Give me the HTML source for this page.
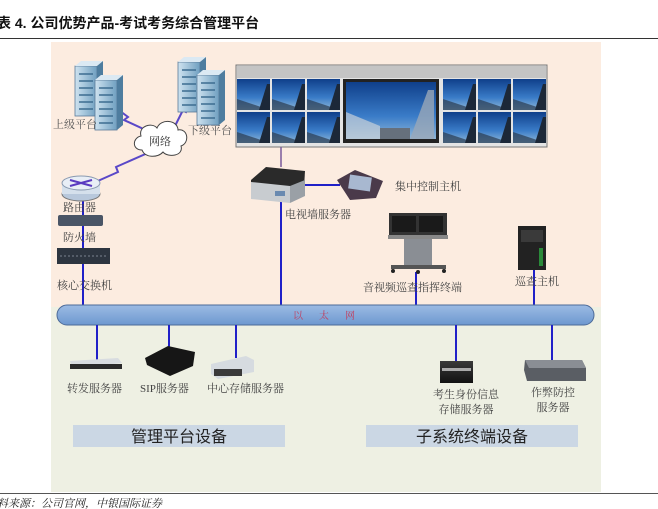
<!DOCTYPE html>
<html><head><meta charset="utf-8"><style>
html,body{margin:0;padding:0;background:#fff;}
svg{display:block;font-family:"Liberation Serif","Noto Serif CJK SC","Noto Sans CJK SC",serif;}
</style></head><body>
<svg width="658" height="509" viewBox="0 0 658 509" xmlns="http://www.w3.org/2000/svg">
<defs>
<linearGradient id="sky" x1="0" y1="0" x2="0" y2="1"><stop offset="0" stop-color="#0f3f8a"/><stop offset="0.6" stop-color="#3a7cc8"/><stop offset="1" stop-color="#8fb7d8"/></linearGradient>
<linearGradient id="srv" x1="0" y1="0" x2="1" y2="0"><stop offset="0" stop-color="#cfe3f0"/><stop offset="1" stop-color="#6f9fc0"/></linearGradient>
<linearGradient id="bar" x1="0" y1="0" x2="0" y2="1"><stop offset="0" stop-color="#9cbbe4"/><stop offset="1" stop-color="#6d98d0"/></linearGradient>
<linearGradient id="box" x1="0" y1="0" x2="0" y2="1"><stop offset="0" stop-color="#3a3a3a"/><stop offset="1" stop-color="#111"/></linearGradient>
<g id="tile"><rect width="33" height="31" fill="url(#sky)"/><path d="M0 20 L33 31 L0 31Z" fill="#2a3a50" opacity="0.7"/><path d="M22 31 L30 5 L33 5 L33 31Z" fill="#1c2838"/></g>
<g id="rack"><rect x="0" y="0" width="22" height="50" fill="url(#srv)" stroke="#5a7a98" stroke-width="0.8"/><path d="M0 0 L6 -5 L28 -5 L22 0Z" fill="#dbe9f3"/><path d="M22 0 L28 -5 L28 45 L22 50Z" fill="#4e7d9f"/>
<g stroke="#3c6c90" stroke-width="1.5"><line x1="4" y1="8" x2="18" y2="8"/><line x1="4" y1="15" x2="18" y2="15"/><line x1="4" y1="22" x2="18" y2="22"/><line x1="4" y1="29" x2="18" y2="29"/><line x1="4" y1="36" x2="18" y2="36"/><line x1="4" y1="43" x2="18" y2="43"/></g></g>
</defs>
<rect width="658" height="509" fill="#fff"/>
<text x="-3" y="28" font-size="14" font-weight="bold" font-family="Liberation Sans,'Noto Sans CJK SC',sans-serif" fill="#111">表 4. 公司优势产品-考试考务综合管理平台</text>
<line x1="0" y1="38.5" x2="658" y2="38.5" stroke="#333" stroke-width="1"/>
<rect x="51" y="42" width="550" height="265" fill="#fcece0"/>
<rect x="51" y="307" width="550" height="185" fill="#eef0e3"/>
<line x1="0" y1="493.5" x2="658" y2="493.5" stroke="#555" stroke-width="1"/>
<text x="-3" y="507" font-size="11" font-style="italic" fill="#222">料来源：公司官网，中银国际证券</text>

<!-- wan links -->
<g stroke="#5a48c8" stroke-width="2" fill="none">
<path d="M112 105 L128 117 L124 120 L150 132"/>
<path d="M175 126 L183 110 L186 112 L194 97"/>
<path d="M82 188 L118 172 L116 167 L150 152"/>
</g>
<use href="#rack" x="75" y="66"/>
<use href="#rack" x="95" y="80"/>
<text x="53" y="128" font-size="11" fill="#555">上级平台</text>
<use href="#rack" x="178" y="62"/>
<use href="#rack" x="197" y="75"/>
<text x="188" y="134" font-size="11" fill="#555">下级平台</text>
<!-- cloud -->
<path d="M142 150 C132 150 132 138 141 136 C138 126 152 122 157 128 C161 118 178 120 178 130 C188 128 190 143 181 146 C184 156 168 158 163 152 C158 158 145 158 142 150Z" fill="#fff" stroke="#444" stroke-width="1"/>
<text x="149" y="145" font-size="11" fill="#333">网络</text>
<!-- router -->
<line x1="83" y1="190" x2="83" y2="307" stroke="#2020c8" stroke-width="2"/>
<ellipse cx="81" cy="194" rx="19" ry="7" fill="#b8c8dc" stroke="#777"/>
<rect x="62" y="183" width="38" height="11" fill="#d5e0ec"/>
<ellipse cx="81" cy="183" rx="19" ry="7" fill="#e8eef6" stroke="#8a9ab0"/>
<path d="M70 180 L92 186 M70 186 L92 180" stroke="#5a3ac0" stroke-width="2"/>
<text x="63" y="211" font-size="11" fill="#444">路由器</text>
<rect x="58" y="215" width="45" height="11" rx="2" fill="#4a5566"/>
<text x="63" y="241" font-size="11" fill="#444">防火墙</text>
<rect x="57" y="248" width="53" height="16" fill="#2d3540"/>
<line x1="60" y1="256" x2="107" y2="256" stroke="#7a8490" stroke-dasharray="2 2"/>
<text x="57" y="289" font-size="11" fill="#444">核心交换机</text>

<!-- video wall -->
<rect x="236" y="65" width="311" height="82" fill="#e4e4e4" stroke="#777"/>
<rect x="237" y="66" width="309" height="12" fill="#c4c4c4"/>
<g>
<use href="#tile" x="237" y="79"/><use href="#tile" x="272" y="79"/><use href="#tile" x="307" y="79"/>
<use href="#tile" x="237" y="112"/><use href="#tile" x="272" y="112"/><use href="#tile" x="307" y="112"/>
<use href="#tile" x="443" y="79"/><use href="#tile" x="478" y="79"/><use href="#tile" x="513" y="79"/>
<use href="#tile" x="443" y="112"/><use href="#tile" x="478" y="112"/><use href="#tile" x="513" y="112"/>
<rect x="343" y="79" width="96" height="64" fill="#222"/>
<rect x="346" y="82" width="90" height="57" fill="url(#sky)"/>
<path d="M346 112 L380 126 L380 139 L346 139Z" fill="#c8d0d8" opacity="0.7"/>
<path d="M410 139 L428 90 L434 90 L434 139Z" fill="#9aa8b8" opacity="0.8"/>
<rect x="380" y="128" width="30" height="11" fill="#66707c"/>
</g>
<line x1="281" y1="147" x2="281" y2="167" stroke="#7a5a9a" stroke-width="1.5"/>
<line x1="281" y1="200" x2="281" y2="307" stroke="#2020c8" stroke-width="2"/>
<line x1="292" y1="185" x2="340" y2="185" stroke="#2020c8" stroke-width="2"/>
<!-- tv server -->
<path d="M251 180 L266 167 L305 171 L304 188 L260 198 L251 195Z" fill="#2a2a2a"/>
<path d="M251 182 L290 186 L290 203 L251 199Z" fill="#c8ccd0"/>
<path d="M290 186 L305 180 L305 196 L290 203Z" fill="#9aa0a6"/>
<rect x="275" y="191" width="10" height="5" fill="#6a8ab0"/>
<text x="285" y="218" font-size="11" fill="#444">电视墙服务器</text>
<!-- control host -->
<path d="M337 180 L355 170 L383 181 L376 198 L350 200 Z" fill="#4a3a4a"/>
<rect x="349" y="176" width="22" height="14" fill="#a8b8d0" transform="rotate(8 360 183)"/>
<text x="395" y="190" font-size="11" fill="#444">集中控制主机</text>
<!-- AV terminal -->
<line x1="416" y1="272" x2="416" y2="307" stroke="#2020c8" stroke-width="2"/>
<rect x="389" y="213" width="58" height="22" fill="#333"/>
<rect x="392" y="216" width="24" height="16" fill="#1a1a1a"/><rect x="419" y="216" width="24" height="16" fill="#1a1a1a"/>
<rect x="388" y="235" width="60" height="4" fill="#888"/>
<rect x="404" y="239" width="28" height="26" fill="#8a8e94"/>
<rect x="391" y="265" width="55" height="4" fill="#555"/>
<circle cx="393" cy="271" r="2" fill="#222"/><circle cx="444" cy="271" r="2" fill="#222"/><circle cx="418" cy="272" r="2" fill="#222"/>
<text x="363" y="291" font-size="11" fill="#444">音视频巡查指挥终端</text>
<!-- tower -->
<line x1="534" y1="268" x2="534" y2="307" stroke="#2020c8" stroke-width="2"/>
<rect x="518" y="226" width="28" height="44" fill="#222"/>
<rect x="521" y="230" width="22" height="12" fill="#3a3a3a"/>
<rect x="539" y="248" width="4" height="18" fill="#2a8a3a"/>
<text x="515" y="285" font-size="11" fill="#444">巡查主机</text>

<!-- ethernet bar -->
<rect x="57" y="305" width="537" height="20" rx="10" fill="url(#bar)" stroke="#4c6a98" stroke-width="1"/>
<text x="293" y="319" font-size="10" fill="#c04060" letter-spacing="16">以太网</text>

<!-- bottom devices -->
<g stroke="#2020c8" stroke-width="2">
<line x1="97" y1="325" x2="97" y2="360"/>
<line x1="169" y1="325" x2="169" y2="350"/>
<line x1="236" y1="325" x2="236" y2="358"/>
<line x1="456" y1="325" x2="456" y2="362"/>
<line x1="552" y1="325" x2="552" y2="360"/>
</g>
<path d="M70 361 L118 358 L122 363 L72 369Z" fill="#d8dce0"/><rect x="70" y="364" width="52" height="5" fill="#2a2a2a"/>
<text x="67" y="392" font-size="11" fill="#444">转发服务器</text>
<path d="M145 358 L168 346 L195 352 L193 366 L170 376 L147 365Z" fill="#161616"/>
<text x="140" y="392" font-size="11" fill="#444">SIP服务器</text>
<path d="M211 364 L246 356 L254 360 L254 372 L218 379 L211 374Z" fill="#d6dbe0"/><rect x="214" y="369" width="28" height="7" fill="#3a3a3a"/>
<text x="207" y="392" font-size="11" fill="#444">中心存储服务器</text>
<rect x="440" y="361" width="33" height="22" fill="url(#box)"/><rect x="442" y="368" width="29" height="3" fill="#aaa"/>
<text x="466" y="398" font-size="11" fill="#444" text-anchor="middle">考生身份信息</text>
<text x="466" y="413" font-size="11" fill="#444" text-anchor="middle">存储服务器</text>
<path d="M525 360 L582 360 L586 368 L586 381 L527 381 L524 370Z" fill="#5a5e64"/><path d="M525 360 L582 360 L586 368 L529 368Z" fill="#8a8e94"/>
<text x="553" y="396" font-size="11" fill="#444" text-anchor="middle">作弊防控</text>
<text x="553" y="411" font-size="11" fill="#444" text-anchor="middle">服务器</text>

<rect x="73" y="425" width="212" height="22" fill="#cbd7e4"/>
<text x="179" y="442" font-size="16" fill="#222" text-anchor="middle" font-family="Liberation Sans,'Noto Sans CJK SC',sans-serif">管理平台设备</text>
<rect x="366" y="425" width="212" height="22" fill="#cbd7e4"/>
<text x="472" y="442" font-size="16" fill="#222" text-anchor="middle" font-family="Liberation Sans,'Noto Sans CJK SC',sans-serif">子系统终端设备</text>
</svg>
</body></html>
